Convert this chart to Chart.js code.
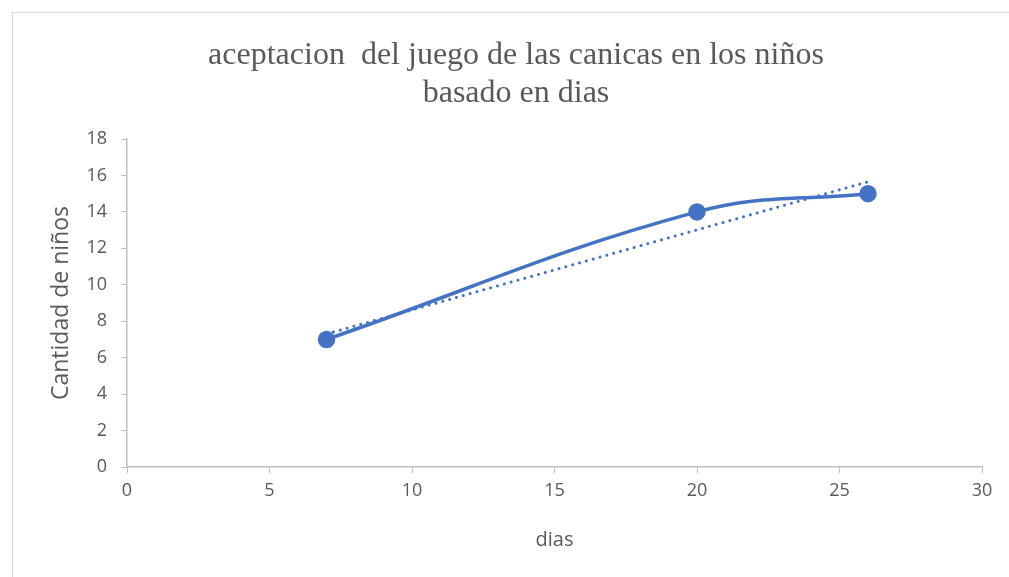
<!DOCTYPE html>
<html><head><meta charset="utf-8">
<script src="https://cdn.jsdelivr.net/npm/chart.js@4"></script>
<style>
html,body{margin:0;padding:0;background:#fff;}
#wrap{position:relative;width:1009px;height:577px;}
#frame{position:absolute;left:12px;top:12px;width:1000px;height:570px;border:1px solid #d9d9d9;box-sizing:border-box;pointer-events:none;}
canvas{position:absolute;left:0;top:0;}
</style></head>
<body>
<div id="wrap"><canvas id="c" width="1009" height="577"></canvas><div id="frame"></div></div>
<script>
const titleLines = ["aceptacion  del juego de las canicas en los niños", "basado en dias"];
const xTitle = "dias";
const yTitle = "Cantidad de niños";
const dias = [7, 20, 26];
const ninos = [7, 14, 15];
const trendX = [7, 26];
const trendY = [7.3, 15.65];

const blue = "#4472C4";
const gray = "#595959";
const axisGray = "#bfbfbf";

const pts = dias.map((d, i) => ({x: d, y: ninos[i]}));
const trend = trendX.map((d, i) => ({x: d, y: trendY[i]}));

new Chart(document.getElementById("c"), {
  type: "scatter",
  data: {
    datasets: [
      {data: pts, showLine: true, borderColor: blue, backgroundColor: blue, borderWidth: 3.5,
       pointRadius: 7, pointHoverRadius: 7, tension: 0.4, order: 1},
      {data: trend, showLine: true, borderColor: blue, borderWidth: 3, borderDash: [0.1, 7],
       borderCapStyle: "round", pointRadius: 0, tension: 0, order: 2}
    ]
  },
  options: {
    responsive: false,
    animation: false,
    devicePixelRatio: 1,
    layout: {padding: {left: 50, right: 27, top: 10, bottom: 0}},
    plugins: {
      legend: {display: false},
      tooltip: {enabled: false},
      title: {display: true, text: titleLines, color: gray,
        font: {family: "Liberation Serif", size: 32, weight: "normal", lineHeight: 1.2},
        padding: {top: 26, bottom: 26.2}}
    },
    scales: {
      x: {type: "linear", min: 0, max: 30,
        afterFit: (s) => { s.height = 110; },
        ticks: {stepSize: 5, color: gray, font: {family: "Open Sans", size: 18}, padding: 7},
        grid: {display: true, drawOnChartArea: false, drawTicks: true, tickLength: 6, color: axisGray},
        border: {color: axisGray, width: 1.5},
        title: {display: true, text: xTitle, color: gray, font: {family: "Open Sans", size: 20}, padding: {top: 12, bottom: 25}}
      },
      y: {type: "linear", min: 0, max: 18,
        afterFit: (s) => { s.width = 77; },
        ticks: {stepSize: 2, color: gray, font: {family: "Open Sans", size: 18}, padding: 14},
        grid: {display: true, drawOnChartArea: false, drawTicks: true, tickLength: 6, color: axisGray},
        border: {color: axisGray, width: 1.5},
        title: {display: true, text: yTitle, color: gray, font: {family: "Open Sans", size: 23}, padding: {top: -2, bottom: 0}}
      }
    }
  }
});
</script>
</body></html>
